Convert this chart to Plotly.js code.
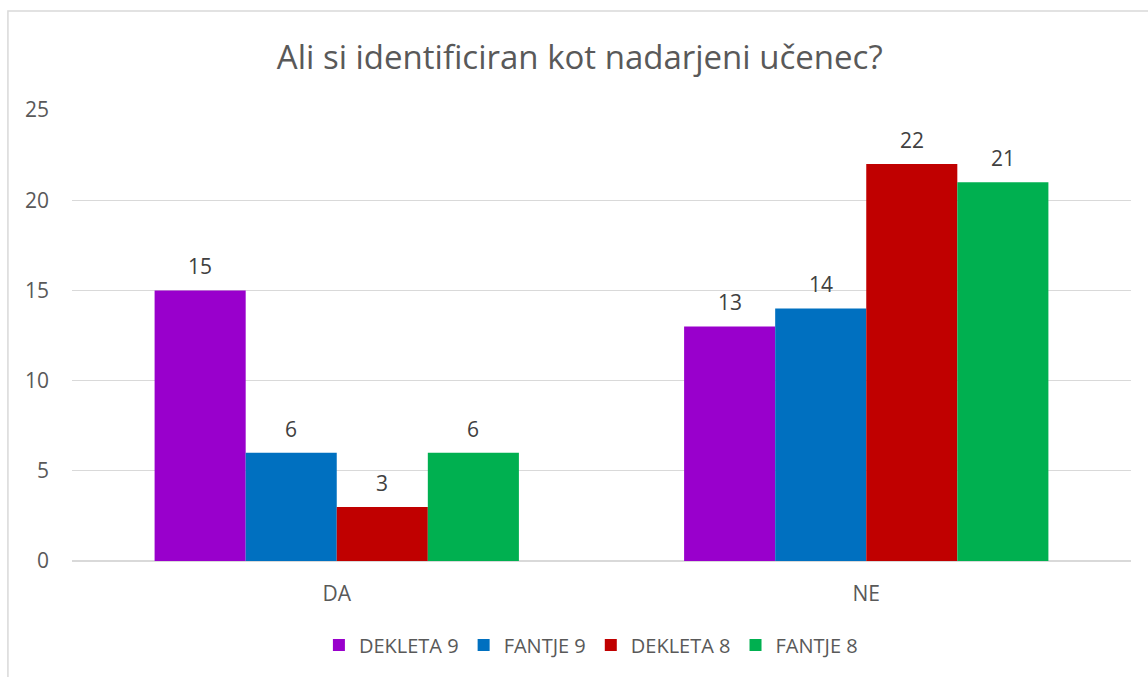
<!DOCTYPE html>
<html>
<head>
<meta charset="utf-8">
<script src="https://cdn.plot.ly/plotly-3.0.1.min.js"></script>
<style>html,body{margin:0;padding:0;background:#fff;}#chart{width:1148px;height:677px;}</style>
</head>
<body>
<div id="chart"></div>
<script>
const categories = ["DA", "NE"];
const seriesNames = ["DEKLETA 9", "FANTJE 9", "DEKLETA 8", "FANTJE 8"];
const dekleta9 = [15, 13];
const fantje9 = [6, 14];
const dekleta8 = [3, 22];
const fantje8 = [6, 21];
const yTicks = [0, 5, 10, 15, 20, 25];
const colors = ["#9900CC", "#0070C0", "#C00000", "#00B050"];

const FONT = "Open Sans, Liberation Sans, sans-serif";
const BARGAP = 0.312;
const values = [dekleta9, fantje9, dekleta8, fantje8];
const traces = values.map((v, i) => ({
  type: "bar",
  name: seriesNames[i],
  x: categories,
  y: v,
  marker: {color: colors[i]},
  hoverinfo: "none"
}));

// data labels as annotations, placed at each bar's centre via the axis scale
const barW = (1 - BARGAP) / values.length;
const annotations = [];
values.forEach((v, i) => {
  v.forEach((val, c) => {
    annotations.push({
      xref: "x", yref: "y",
      x: c + (i - (values.length - 1) / 2) * barW,
      y: val,
      text: String(val),
      showarrow: false,
      xanchor: "center", yanchor: "bottom",
      yshift: 8,
      font: {family: FONT, size: 21, color: "#404040"}
    });
  });
});

const layout = {
  width: 1148, height: 677,
  margin: {l: 72, r: 17, t: 110, b: 116},
  paper_bgcolor: "#fff", plot_bgcolor: "#fff",
  title: {text: "Ali si identificiran kot nadarjeni učenec?", x: 0.505, xanchor: "center", y: 0.915, yanchor: "middle",
          font: {family: FONT, size: 33, color: "#595959"}},
  barmode: "group",
  bargap: BARGAP,
  bargroupgap: 0,
  showlegend: true,
  legend: {orientation: "h", x: 0.49, xanchor: "center", y: -0.143, yanchor: "top",
           font: {family: FONT, size: 20, color: "#595959"}, itemwidth: 30, traceorder: "normal"},
  xaxis: {type: "category", showgrid: false, showline: false, ticks: "", ticklabelstandoff: 18,
          tickfont: {family: FONT, size: 21, color: "#595959"}},
  yaxis: {range: [0, 25], tickvals: yTicks, ticktext: yTicks.map(String), showgrid: true, gridcolor: "#d9d9d9", gridwidth: 1,
          zeroline: true, zerolinecolor: "#d9d9d9", zerolinewidth: 1.5, showline: false, ticks: "", ticklabelstandoff: 22,
          tickfont: {family: FONT, size: 21, color: "#595959"}, automargin: false},
  annotations: annotations,
  shapes: [{type: "rect", xref: "paper", yref: "paper", x0: -0.0605, x1: 1.02, y0: -0.27, y1: 1.2195,
            line: {color: "#d9d9d9", width: 1.5}, fillcolor: "rgba(0,0,0,0)", layer: "below"}]
};

Plotly.newPlot("chart", traces, layout, {displayModeBar: false, staticPlot: true});
</script>
</body>
</html>
